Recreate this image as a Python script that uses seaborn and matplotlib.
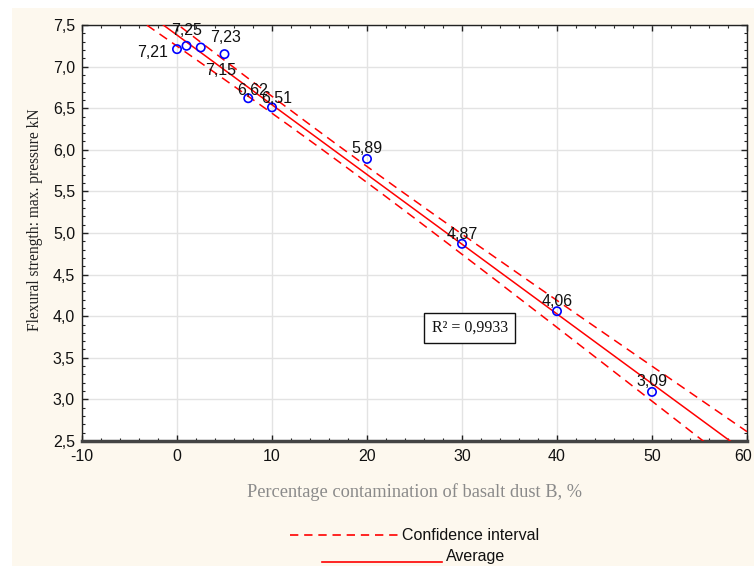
import numpy as np
import pandas as pd
import matplotlib
matplotlib.use("Agg")
import matplotlib.pyplot as plt
import seaborn as sns
from matplotlib.ticker import MultipleLocator, FuncFormatter
from matplotlib.patches import Rectangle
from matplotlib.lines import Line2D
from matplotlib.transforms import ScaledTranslation

# ---- data ----
contamination = [0, 1, 2.5, 5, 7.5, 10, 20, 30, 40, 50]
pressure = [7.21, 7.25, 7.23, 7.15, 6.62, 6.51, 5.89, 4.87, 4.06, 3.09]
point_labels = ["7,21", "7,25", "7,23", "7,15", "6,62", "6,51", "5,89", "4,87", "4,06", "3,09"]
x_ticks = [-10, 0, 10, 20, 30, 40, 50, 60]
y_ticks = [2.5, 3.0, 3.5, 4.0, 4.5, 5.0, 5.5, 6.0, 6.5, 7.0, 7.5]
r2_label = "R² = 0,9933"
x_title = "Percentage contamination of basalt dust B, %"
y_title = "Flexural strength: max. pressure kN"
legend_labels = ["Confidence interval", "Average"]

# label offsets (pixels)
label_offsets = [(-24, -3), (0, 15), (25, 10), (-4, -16), (4, 8), (5, 9),
                 (0, 10), (0, 9), (0, 10), (0, 10)]

# ---- regression with 95% confidence band ----
x = np.array(contamination, dtype=float)
y = np.array(pressure, dtype=float)
n = len(x)
slope, intercept = np.polyfit(x, y, 1)
resid = y - (intercept + slope * x)
s = np.sqrt(np.sum(resid ** 2) / (n - 2))
sxx = np.sum((x - x.mean()) ** 2)
t_crit = 2.306  # t(0.975, 8)
grid = np.linspace(-10, 60, 300)
fit = intercept + slope * grid
half = t_crit * s * np.sqrt(1 / n + (grid - x.mean()) ** 2 / sxx)
band = pd.DataFrame({"x": grid, "fit": fit, "lo": fit - half, "hi": fit + half})
pts = pd.DataFrame({"x": contamination, "y": pressure})

# ---- figure ----
W, H = 754, 568
fig = plt.figure(figsize=(W / 100, H / 100), dpi=100)
fig.patch.set_facecolor("white")
bg = Rectangle((12 / W, 2 / H), 1 - 12 / W, 1 - 10 / H,
               transform=fig.transFigure, facecolor="#FDF8EE",
               edgecolor="none", zorder=-10)
fig.add_artist(bg)

ax = fig.add_axes([82 / W, 1 - 441 / H, 665 / W, 416 / H])
ax.set_zorder(1)
ax.set_facecolor("white")

red = "#FF0000"
sns.lineplot(data=band, x="x", y="fit", ax=ax, color=red, lw=1.1, zorder=3)
sns.lineplot(data=band, x="x", y="lo", ax=ax, color=red, lw=1.1, zorder=3,
             linestyle=(0, (6, 4)))
sns.lineplot(data=band, x="x", y="hi", ax=ax, color=red, lw=1.1, zorder=3,
             linestyle=(0, (6, 4)))
sns.scatterplot(data=pts, x="x", y="y", ax=ax, marker="o", s=36,
                facecolor="none", edgecolor="#0000FF", linewidth=1.2, zorder=4)

fs = 11.5
lab_font = dict(family="Liberation Sans", size=fs, color="#111111")
for xi, yi, lab, (dx, dy) in zip(contamination, pressure, point_labels, label_offsets):
    ax.annotate(lab, (xi, yi), xytext=(dx, dy), textcoords="offset pixels",
                ha="center", va="center", zorder=5, **lab_font)

ax.set_xlim(-10, 60)
ax.set_ylim(2.5, 7.5)
ax.set_xticks(x_ticks)
ax.set_yticks(y_ticks)
ax.xaxis.set_minor_locator(MultipleLocator(2))
ax.yaxis.set_minor_locator(MultipleLocator(0.1))
ax.yaxis.set_major_formatter(FuncFormatter(lambda v, p: f"{v:.1f}".replace(".", ",")))
ax.xaxis.set_major_formatter(FuncFormatter(lambda v, p: f"{v:.0f}"))
ax.tick_params(which="both", direction="in", top=True, right=True,
               colors="#222222", labelcolor="#111111")
ax.tick_params(which="major", length=4, width=1, labelsize=fs)
ax.tick_params(axis="x", which="major", pad=6)
ax.tick_params(axis="y", which="major", pad=5)
ax.tick_params(which="minor", length=2.5, width=0.8)
for lab in ax.get_xticklabels() + ax.get_yticklabels():
    lab.set_family("Liberation Sans")
# keep the last x tick label inside the figure
last = ax.get_xticklabels()[-1]
last.set_transform(last.get_transform() + ScaledTranslation(-4 / 100, 0, fig.dpi_scale_trans))

ax.grid(True, which="major", color="#E3E3E3", lw=1, zorder=0)
ax.set_axisbelow(True)
for side in ["left", "top", "right"]:
    ax.spines[side].set_color("#222222")
    ax.spines[side].set_linewidth(1.0)
ax.spines["bottom"].set_color("#444444")
ax.spines["bottom"].set_linewidth(2.5)

ax.set_xlabel(x_title, family="Liberation Serif", size=13.2, color="#8A8A8A")
ax.xaxis.set_label_coords(0.5, (441 - 492) / 416)
ax.set_ylabel(y_title, family="Liberation Serif", size=11.2, color="#222222")
ax.yaxis.set_label_coords((35 - 82) / 665, (441 - 220) / 416)
ax.xaxis.label.set_va("center")
ax.yaxis.label.set_va("center")

ax.text(0.583, 0.272, r2_label, transform=ax.transAxes, ha="center", va="center",
        family="Liberation Serif", size=11.5, color="#111111", zorder=6,
        bbox=dict(boxstyle="square,pad=0.45", facecolor="white", edgecolor="#111111", lw=1))

# ---- custom legend below ----
fig.add_artist(Line2D([290 / W, 398 / W], [1 - 535 / H] * 2, color=red, lw=1.2,
                      linestyle=(0, (5, 3.5)), transform=fig.transFigure))
fig.text(402 / W, 1 - 535 / H, legend_labels[0], ha="left", va="center",
         family="Liberation Sans", size=fs, color="#111111")
fig.add_artist(Line2D([322 / W, 442 / W], [1 - 562 / H] * 2, color=red, lw=1.2,
                      transform=fig.transFigure))
fig.text(446 / W, 1 - 556 / H, legend_labels[1], ha="left", va="center",
         family="Liberation Sans", size=fs, color="#111111")

fig.savefig("out.png", dpi=100)
